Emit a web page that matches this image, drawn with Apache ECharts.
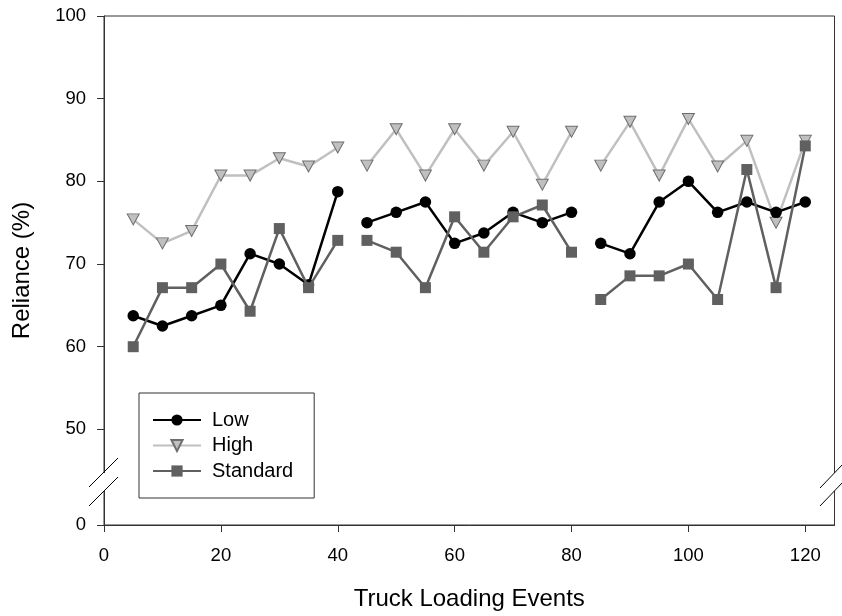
<!DOCTYPE html>
<html>
<head>
<meta charset="utf-8">
<script src="https://cdn.jsdelivr.net/npm/echarts@6/dist/echarts.min.js"></script>
<style>html,body{margin:0;padding:0;background:#fff;}#main{width:842px;height:616px;}</style>
</head>
<body>
<div id="main"></div>
<script>
// Data
const events = [5,10,15,20,25,30,35,40, 45,50,55,60,65,70,75,80, 85,90,95,100,105,110,115,120];
const lowValues = [63.75,62.5,63.75,65,71.25,70,67.5,78.75, 75,76.25,77.5,72.5,73.75,76.25,75,76.25, 72.5,71.25,77.5,80,76.25,77.5,76.25,77.5];
const highValues = [75.4,72.5,74.0,80.7,80.7,82.8,81.8,84.1, 81.9,86.3,80.7,86.3,81.9,86.0,79.6,86.0, 81.9,87.2,80.7,87.55,81.8,84.9,75.0,84.9];
const standardValues = [60,67.14,67.14,70,64.29,74.29,67.14,72.86, 72.86,71.43,67.14,75.71,71.43,75.71,77.14,71.43, 65.71,68.57,68.57,70,65.71,81.43,67.14,84.29];
const sessionEnds = [40, 80]; // the lines break after these events
const xTicks = [0,20,40,60,80,100,120];
const yTicks = [0,50,60,70,80,90,100];
const seriesNames = ['Low','High','Standard'];

// broken axis: the "0" tick sits below the break
const yBreakBottom = 38.434;
const mapY = v => (v < 50 ? yBreakBottom : v);

function build(values) {
  const out = [];
  for (let i = 0; i < events.length; i++) {
    out.push([events[i], values[i]]);
    if (sessionEnds.indexOf(events[i]) >= 0) out.push([events[i], '-']);
  }
  return out;
}

const FONT = 'Liberation Sans, Arial, sans-serif';
const chart = echarts.init(document.getElementById('main'), null, {renderer: 'canvas'});
chart.setOption({
  backgroundColor: '#fff',
  animation: false,
  grid: {left: 104, right: 7.5, top: 16, bottom: 89, show: true, borderColor: '#333', borderWidth: 1, backgroundColor: 'transparent'},
  xAxis: {
    type: 'value', min: 0, max: 125,
    name: 'Truck Loading Events', nameLocation: 'middle', nameGap: 62,
    nameTextStyle: {fontFamily: FONT, fontSize: 24, color: '#000'},
    axisLine: {show: true, lineStyle: {color: '#333', width: 1}},
    axisTick: {show: true, inside: false, length: 7, lineStyle: {color: '#333'}, customValues: xTicks},
    axisLabel: {fontFamily: FONT, fontSize: 18.5, color: '#000', margin: 21, customValues: xTicks},
    splitLine: {show: false}
  },
  yAxis: {
    type: 'value', min: yBreakBottom, max: 100,
    name: 'Reliance (%)', nameLocation: 'middle', nameGap: 70,
    nameTextStyle: {fontFamily: FONT, fontSize: 24, color: '#000'},
    axisLine: {show: true, lineStyle: {color: '#333', width: 1}},
    axisTick: {show: true, inside: false, length: 7, lineStyle: {color: '#333'}, customValues: yTicks.map(mapY)},
    axisLabel: {fontFamily: FONT, fontSize: 18.5, color: '#000', margin: 18, customValues: yTicks.map(mapY),
      formatter: v => (v < 50 ? '0' : String(Math.round(v)))},
    splitLine: {show: false}
  },
  legend: {
    orient: 'vertical', left: 139, top: 393,
    data: seriesNames,
    borderColor: '#333', borderWidth: 1,
    padding: [17, 21, 17, 13],
    itemWidth: 48, itemHeight: 14, itemGap: 5.5,
    textStyle: {fontFamily: FONT, fontSize: 20, color: '#000', padding: [0,0,0,6]}
  },
  series: [
    {name: seriesNames[0], type: 'line', z: 3, data: build(lowValues), connectNulls: false,
      symbol: 'circle', symbolSize: 11.5,
      lineStyle: {color: '#000', width: 2.5}, itemStyle: {color: '#000', borderWidth: 0}},
    {name: seriesNames[1], type: 'line', z: 2, data: build(highValues), connectNulls: false,
      symbol: 'triangle', symbolRotate: 180, symbolSize: [12, 11],
      lineStyle: {color: '#c0c0c0', width: 2.5}, itemStyle: {color: '#c0c0c0', borderColor: '#6e6e6e', borderWidth: 1}},
    {name: seriesNames[2], type: 'line', z: 4, data: build(standardValues), connectNulls: false,
      symbol: 'rect', symbolSize: 11,
      lineStyle: {color: '#606060', width: 2.5}, itemStyle: {color: '#606060', borderWidth: 0}}
  ],
  graphic: [
    {type: 'rect', z: 100, shape: {x: 101, y: 473, width: 6, height: 18}, style: {fill: '#fff'}},
    {type: 'rect', z: 100, shape: {x: 832, y: 473, width: 6, height: 18}, style: {fill: '#fff'}},
    {type: 'line', z: 101, shape: {x1: 89, y1: 487, x2: 118, y2: 458}, style: {stroke: '#000', lineWidth: 1}},
    {type: 'line', z: 101, shape: {x1: 89, y1: 506, x2: 118, y2: 477}, style: {stroke: '#000', lineWidth: 1}},
    {type: 'line', z: 101, shape: {x1: 820, y1: 488, x2: 843, y2: 464}, style: {stroke: '#000', lineWidth: 1}},
    {type: 'line', z: 101, shape: {x1: 820, y1: 506, x2: 843, y2: 482}, style: {stroke: '#000', lineWidth: 1}}
  ]
});
</script>
</body>
</html>
